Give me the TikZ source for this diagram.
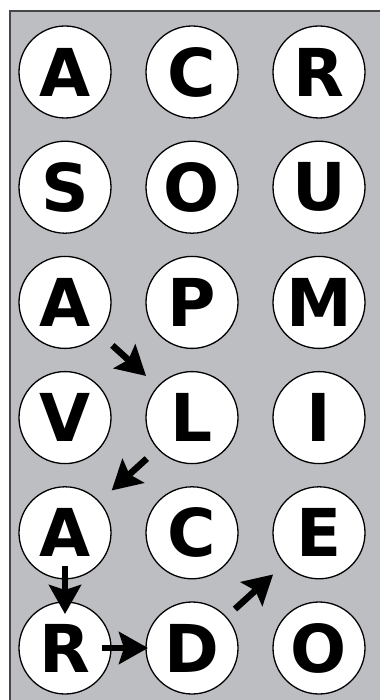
\documentclass[tikz,border=0pt]{standalone}
\usepackage{fontspec}
\setmainfont{DejaVu Sans}
\usetikzlibrary{arrows.meta}
\definecolor{panelgray}{RGB}{189,190,194}
\definecolor{framegray}{RGB}{70,70,72}

\begin{document}
\begin{tikzpicture}[x=1pt,y=-1pt,
  tile/.style={circle,draw,fill=white,line width=1.3pt,minimum size=92pt,inner sep=0pt,
    font=\fontsize{66}{66}\selectfont\bfseries},
  pointer/.style={line width=6.5pt,-{Stealth[length=29pt,width=32pt,inset=5pt]}}]
\useasboundingbox (0,0) rectangle (380,700);
\fill[panelgray] (10,11) rectangle (380,700);
\draw[framegray,line width=2pt] (10,700) -- (10,11) -- (380,11);
\foreach \l/\c/\r in {A/0/0, C/1/0, R/2/0, S/0/1, O/1/1, U/2/1, A/0/2, P/1/2, M/2/2,
    V/0/3, L/1/3, I/2/3, A/0/4, C/1/4, E/2/4, R/0/5, D/1/5, O/2/5} {
  \node[tile] (n\r\c) at (65+127*\c, 72+115.2*\r) {\l};
}
\draw[pointer,shorten <=64pt,shorten >=62pt] (n20.center) -- (n31.center);
\draw[pointer,shorten <=61pt,shorten >=63pt] (n31.center) -- (n40.center);
\draw[pointer,shorten <=33pt,shorten >=34pt] (n40.center) -- (n50.center);
\draw[pointer,shorten <=37pt,shorten >=44pt] (n50.center) -- (n51.center);
\draw[pointer,shorten <=58pt,shorten >=62pt] (n51.center) -- (n42.center);
\end{tikzpicture}
\end{document}
